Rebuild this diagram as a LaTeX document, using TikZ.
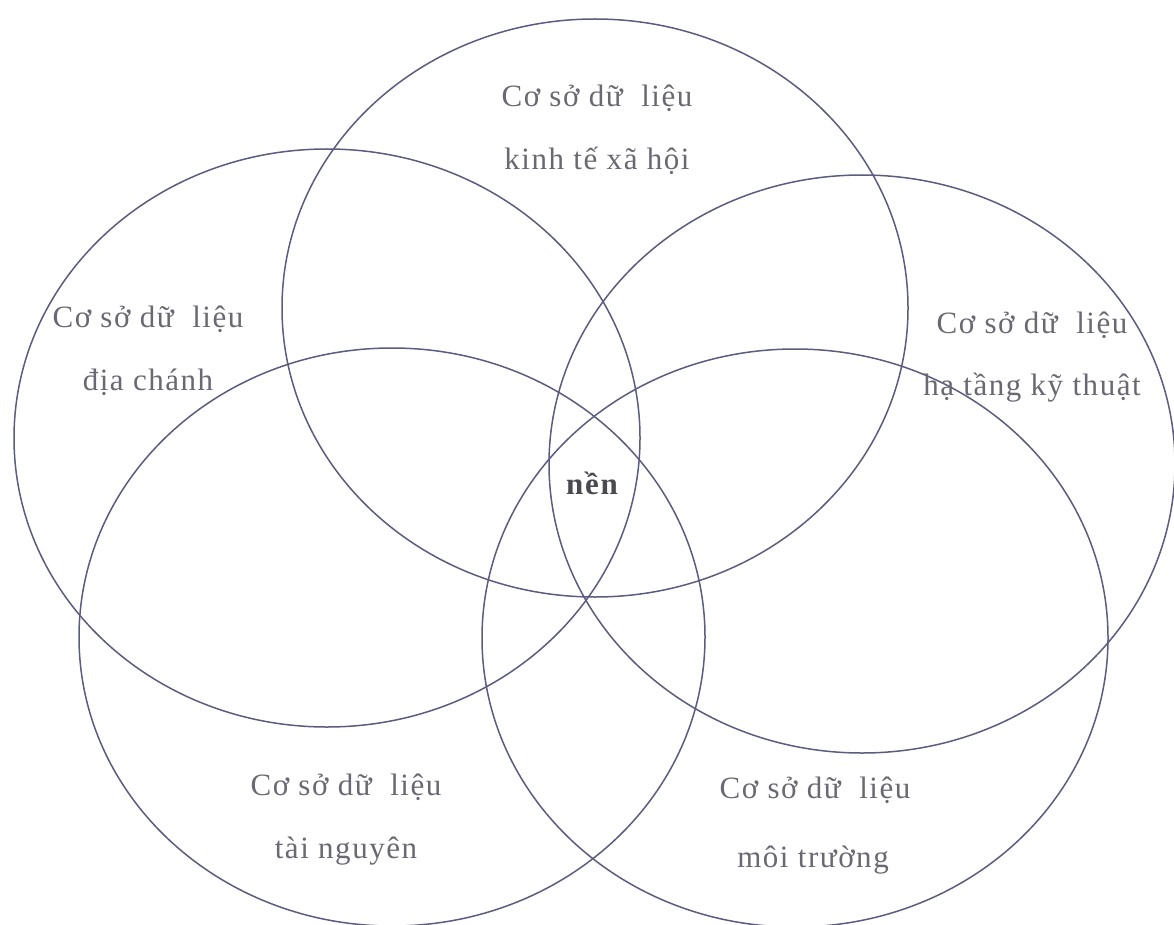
\documentclass[tikz,border=0pt]{standalone}
\usepackage{fontspec}
\setmainfont{Liberation Serif}
\usetikzlibrary{shapes.geometric}
\definecolor{ringcol}{RGB}{92,92,128}
\definecolor{txtcol}{RGB}{105,105,115}
\begin{document}
\begin{tikzpicture}[x=1pt,y=-1pt,
  ring/.style={ellipse,draw=ringcol,line width=1.5pt,inner sep=0pt,
    minimum width=626pt,minimum height=578pt},
  lbl/.style={anchor=base,text=txtcol,inner sep=0pt,
    font=\fontsize{31}{34}\selectfont\addfontfeature{LetterSpace=5}},
  core/.style={anchor=base,text=txtcol!70!black,inner sep=0pt,
    font=\fontsize{31}{34}\selectfont\bfseries\addfontfeature{LetterSpace=6}}]
\useasboundingbox (0,0) rectangle (1174,925);
\fill[white] (0,0) rectangle (1174,925);
\node[ring] (kt) at (595,308) {};
\node[ring] (dc) at (327,438) {};
\node[ring] (ht) at (862,464) {};
\node[ring] (tn) at (392,637) {};
\node[ring] (mt) at (795,638) {};
\node[lbl] (kt1) at (597,107) {Cơ sở dữ\ \ liệu};
\node[lbl] (kt2) at (597,170) {kinh tế xã hội};
\node[lbl] (dc1) at (148,327) {Cơ sở dữ\ \ liệu};
\node[lbl] (dc2) at (148,390) {địa chánh};
\node[lbl] (ht1) at (1032,333) {Cơ sở dữ\ \ liệu};
\node[lbl] (ht2) at (1032,395) {hạ tầng kỹ thuật};
\node[core] (nen) at (592,494) {nền};
\node[lbl] (tn1) at (346,795) {Cơ sở dữ\ \ liệu};
\node[lbl] (tn2) at (346,858) {tài nguyên};
\node[lbl] (mt1) at (815,798) {Cơ sở dữ\ \ liệu};
\node[lbl] (mt2) at (813,867) {môi trường};
\end{tikzpicture}
\end{document}
